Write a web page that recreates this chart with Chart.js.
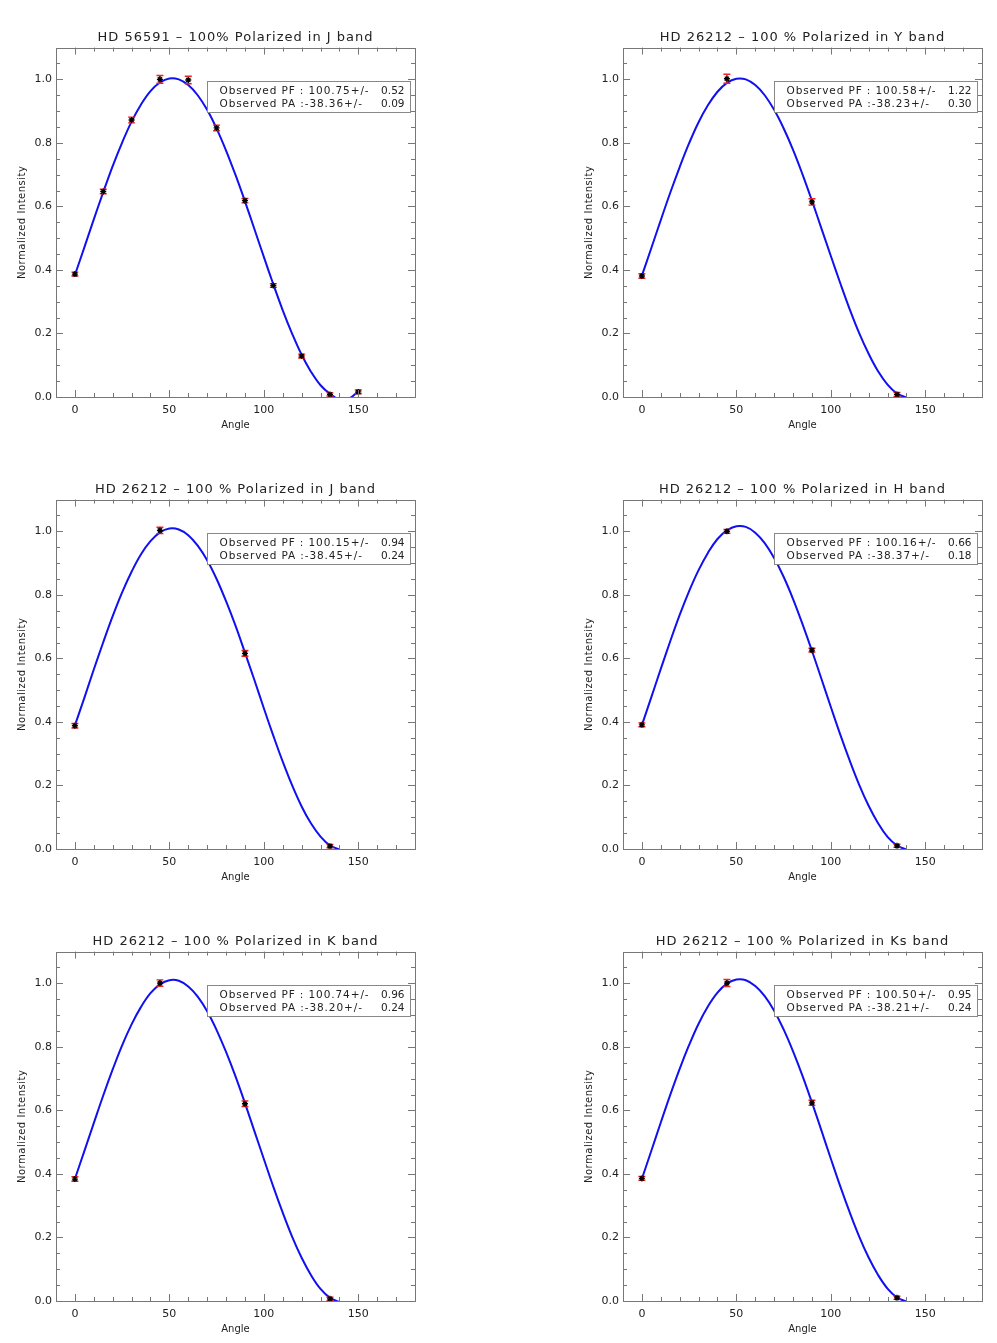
<!DOCTYPE html>
<html>
<head>
<meta charset="utf-8">
<title>Polarization fits</title>
<script src="https://cdn.jsdelivr.net/npm/chart.js@4/dist/chart.umd.min.js"></script>
<style>
  html, body { margin: 0; padding: 0; background: #fff; overflow: hidden; }
  #page { position: relative; width: 997px; height: 1343px; }
  .panel { position: absolute; width: 430px; height: 452px; }
</style>
</head>
<body>
<div id="page">
  <div class="panel" style="left:0;top:0"><canvas id="c0" width="430" height="452"></canvas></div>
  <div class="panel" style="left:567px;top:0"><canvas id="c1" width="430" height="452"></canvas></div>
  <div class="panel" style="left:0;top:452px"><canvas id="c2" width="430" height="452"></canvas></div>
  <div class="panel" style="left:567px;top:452px"><canvas id="c3" width="430" height="452"></canvas></div>
  <div class="panel" style="left:0;top:904px"><canvas id="c4" width="430" height="452"></canvas></div>
  <div class="panel" style="left:567px;top:904px"><canvas id="c5" width="430" height="452"></canvas></div>
</div>
<script>
// axis ticks
const xMajor = [0, 50, 100, 150];
const xMinor = [0, 10, 20, 30, 40, 50, 60, 70, 80, 90, 100, 110, 120, 130, 140, 150, 160, 170];
const yMajor = [0, 0.2, 0.4, 0.6, 0.8, 1.0];
const yMinor = [0, 0.05, 0.1, 0.15, 0.2, 0.25, 0.3, 0.35, 0.4, 0.45, 0.5, 0.55, 0.6, 0.65, 0.7, 0.75, 0.8, 0.85, 0.9, 0.95, 1.0, 1.05];

const titles = [
  "HD 56591 – 100% Polarized in J band",
  "HD 26212 – 100 % Polarized in Y band",
  "HD 26212 – 100 % Polarized in J band",
  "HD 26212 – 100 % Polarized in H band",
  "HD 26212 – 100 % Polarized in K band",
  "HD 26212 – 100 % Polarized in Ks band"
];

// legend numbers
const pfValues = ["100.75", "100.58", "100.15", "100.16", "100.74", "100.50"];
const pfErrors = ["0.52", "1.22", "0.94", "0.66", "0.96", "0.95"];
const paValues = ["-38.36", "-38.23", "-38.45", "-38.37", "-38.20", "-38.21"];
const paErrors = ["0.09", "0.30", "0.24", "0.18", "0.24", "0.24"];

// observed points
const anglesHD56591 = [0, 15, 30, 45, 60, 75, 90, 105, 120, 135, 150];
const anglesHD26212 = [0, 45, 90, 135];

const obsJ56591 = [0.387, 0.647, 0.872, 1.0, 0.998, 0.847, 0.618, 0.351, 0.129, 0.008, 0.016];
const errJ56591 = [0.006, 0.007, 0.009, 0.012, 0.012, 0.009, 0.007, 0.006, 0.006, 0.005, 0.006];
const obsY = [0.381, 1.002, 0.614, 0.008];
const errY = [0.007, 0.014, 0.010, 0.006];
const obsJ = [0.388, 1.003, 0.616, 0.009];
const errJ = [0.007, 0.010, 0.009, 0.005];
const obsH = [0.391, 1.000, 0.626, 0.010];
const errH = [0.006, 0.006, 0.006, 0.005];
const obsK = [0.384, 1.001, 0.621, 0.007];
const errK = [0.007, 0.010, 0.009, 0.005];
const obsKs = [0.386, 1.001, 0.624, 0.010];
const errKs = [0.006, 0.011, 0.008, 0.005];

// fitted curves, read every 5 degrees
const fitAngles = [0, 5, 10, 15, 20, 25, 30, 35, 40, 45, 50, 55, 60, 65, 70, 75, 80, 85, 90, 95, 100, 105, 110, 115, 120, 125, 130, 135, 140, 145, 150];
const fitJ56591 = [0.384, 0.471, 0.559, 0.645, 0.727, 0.801, 0.867, 0.921, 0.963, 0.990, 1.003, 1.000, 0.982, 0.950, 0.904, 0.845, 0.776, 0.699, 0.616, 0.529, 0.441, 0.355, 0.273, 0.199, 0.133, 0.079, 0.037, 0.010, -0.008, -0.005, 0.018];
const fitY = [0.382, 0.469, 0.557, 0.643, 0.724, 0.799, 0.865, 0.919, 0.961, 0.989, 1.002, 1.000, 0.982, 0.950, 0.904, 0.846, 0.778, 0.701, 0.618, 0.531, 0.444, 0.358, 0.276, 0.201, 0.136, 0.081, 0.039, 0.011, -0.002];
const fitJ = [0.389, 0.476, 0.565, 0.651, 0.733, 0.808, 0.873, 0.928, 0.969, 0.997, 1.009, 1.006, 0.988, 0.955, 0.909, 0.850, 0.780, 0.703, 0.618, 0.532, 0.443, 0.357, 0.275, 0.200, 0.134, 0.080, 0.039, 0.011, -0.001];
const fitH = [0.390, 0.478, 0.567, 0.654, 0.737, 0.812, 0.878, 0.933, 0.976, 1.003, 1.016, 1.014, 0.996, 0.963, 0.916, 0.857, 0.787, 0.708, 0.624, 0.536, 0.447, 0.360, 0.278, 0.202, 0.136, 0.081, 0.038, 0.011, -0.002];
const fitK = [0.384, 0.472, 0.560, 0.647, 0.729, 0.805, 0.871, 0.926, 0.969, 0.997, 1.010, 1.008, 0.990, 0.958, 0.912, 0.853, 0.784, 0.707, 0.623, 0.535, 0.447, 0.360, 0.278, 0.202, 0.136, 0.081, 0.038, 0.010, -0.003];
const fitKs = [0.385, 0.473, 0.562, 0.649, 0.731, 0.806, 0.873, 0.928, 0.971, 0.999, 1.012, 1.010, 0.992, 0.960, 0.914, 0.855, 0.786, 0.709, 0.625, 0.537, 0.448, 0.361, 0.279, 0.203, 0.137, 0.082, 0.039, 0.011, -0.002];

const panels = [
  { angles: anglesHD56591, obs: obsJ56591, err: errJ56591, fit: fitJ56591 },
  { angles: anglesHD26212, obs: obsY, err: errY, fit: fitY },
  { angles: anglesHD26212, obs: obsJ, err: errJ, fit: fitJ },
  { angles: anglesHD26212, obs: obsH, err: errH, fit: fitH },
  { angles: anglesHD26212, obs: obsK, err: errK, fit: fitK },
  { angles: anglesHD26212, obs: obsKs, err: errKs, fit: fitKs }
];

const FONT = "'DejaVu Sans', sans-serif";
const AXIS_COLOR = "#777";
const TEXT_COLOR = "#222";

// the IDL lettering is looser than DejaVu, so widen the title and y title a bit
const spacing = {
  id: "spacing",
  beforeDraw(chart) {
    if (chart._spaced) return;
    chart._spaced = true;
    const wrap = (obj, name, px) => {
      const orig = obj[name].bind(obj);
      obj[name] = (...args) => {
        const c = chart.ctx;
        c.save();
        c.letterSpacing = px;
        orig(...args);
        c.restore();
      };
    };
    wrap(chart.titleBlock, "draw", "1px");
    wrap(chart.scales.y, "drawTitle", "0.5px");
  }
};

// red error bars, drawn just before the star markers
const errorBars = {
  id: "errorBars",
  beforeDatasetDraw(chart, args) {
    if (args.index !== 0) return;
    const { ctx, scales: { x, y } } = chart;
    ctx.save();
    ctx.strokeStyle = "#ee2222";
    ctx.lineWidth = 1.4;
    chart.data.datasets[0].data.forEach(p => {
      const px = x.getPixelForValue(p.x);
      const lo = y.getPixelForValue(p.y - p.err);
      const hi = y.getPixelForValue(p.y + p.err);
      ctx.beginPath();
      ctx.moveTo(px, lo); ctx.lineTo(px, hi);
      ctx.moveTo(px - 3.5, lo); ctx.lineTo(px + 3.5, lo);
      ctx.moveTo(px - 3.5, hi); ctx.lineTo(px + 3.5, hi);
      ctx.stroke();
    });
    ctx.restore();
  }
};

// box axes with inward ticks on all four sides + the PF/PA box
const frame = {
  id: "frame",
  afterDraw(chart) {
    const { ctx, chartArea: a, scales: { x, y } } = chart;
    const i = chart.options.plugins.frame.panel;
    ctx.save();
    ctx.strokeStyle = AXIS_COLOR;
    ctx.lineWidth = 1;
    ctx.strokeRect(Math.round(a.left) + 0.5, Math.round(a.top) + 0.5,
      Math.round(a.right - a.left), Math.round(a.bottom - a.top));
    ctx.beginPath();
    xMinor.forEach(v => {
      const px = Math.round(x.getPixelForValue(v)) + 0.5;
      const len = xMajor.includes(v) ? 7 : 4;
      ctx.moveTo(px, a.bottom); ctx.lineTo(px, a.bottom - len);
      ctx.moveTo(px, a.top); ctx.lineTo(px, a.top + len);
    });
    yMinor.forEach(v => {
      const py = Math.round(y.getPixelForValue(v)) + 0.5;
      const len = yMajor.some(m => Math.abs(m - v) < 1e-9) ? 7 : 4;
      ctx.moveTo(a.left, py); ctx.lineTo(a.left + len, py);
      ctx.moveTo(a.right, py); ctx.lineTo(a.right - len, py);
    });
    ctx.stroke();

    const bl = Math.round(a.right - 208) + 0.5, br = Math.round(a.right - 5) + 0.5;
    const bt = Math.round(a.top + 33) + 0.5, bb = Math.round(a.top + 64) + 0.5;
    ctx.fillStyle = "#fff";
    ctx.fillRect(bl, bt, br - bl, bb - bt);
    ctx.strokeStyle = "#888";
    ctx.strokeRect(bl, bt, br - bl, bb - bt);
    ctx.fillStyle = TEXT_COLOR;
    ctx.font = "10.5px " + FONT;
    ctx.textBaseline = "middle";
    ctx.textAlign = "right";
    ctx.fillText(pfErrors[i], br - 6, bt + 9.5);
    ctx.fillText(paErrors[i], br - 6, bt + 22.5);
    ctx.textAlign = "left";
    ctx.letterSpacing = "0.9px";
    ctx.fillText("Observed PF : " + pfValues[i] + "+/-", bl + 12, bt + 9.5);
    ctx.fillText("Observed PA :" + paValues[i] + "+/-", bl + 12, bt + 22.5);
    ctx.restore();
  }
};

panels.forEach((p, i) => {
  const points = p.angles.map((a, k) => ({ x: a, y: p.obs[k], err: p.err[k] }));
  const curve = p.fit.map((v, k) => ({ x: fitAngles[k], y: v }));

  new Chart(document.getElementById("c" + i), {
    type: "line",
    data: {
      datasets: [
        {
          data: points,
          showLine: false,
          pointStyle: "star",
          pointRadius: 3,
          pointBorderColor: "#000",
          pointBackgroundColor: "#000",
          pointBorderWidth: 1.3,
          clip: false
        },
        {
          data: curve,
          borderColor: "#1010f0",
          borderWidth: 2,
          pointRadius: 0,
          tension: 0.4,
          clip: 0
        }
      ]
    },
    options: {
      responsive: false,
      animation: false,
      events: [],
      layout: { padding: { left: 0, right: 15, top: 0, bottom: 15 } },
      plugins: {
        legend: { display: false },
        tooltip: { enabled: false },
        title: {
          display: true,
          text: titles[i],
          fullSize: false,
          color: TEXT_COLOR,
          font: { family: FONT, size: 13, weight: "normal", lineHeight: 1.2 },
          padding: { top: 30, bottom: 2 }
        },
        frame: { panel: i }
      },
      scales: {
        x: {
          type: "linear",
          min: -10,
          max: 180,
          afterBuildTicks: s => { s.ticks = xMajor.map(v => ({ value: v })); },
          afterFit: s => { s.height = 40; },
          grid: { display: false, drawTicks: false },
          border: { display: false },
          ticks: { color: TEXT_COLOR, font: { family: FONT, size: 11 }, padding: 7, maxRotation: 0 },
          title: { display: true, text: "Angle", color: TEXT_COLOR, font: { family: FONT, size: 10, lineHeight: 1.2 }, padding: { top: 0, bottom: 6 } }
        },
        y: {
          type: "linear",
          min: 0,
          max: 1.1,
          afterBuildTicks: s => { s.ticks = yMajor.map(v => ({ value: v })); },
          afterFit: s => { s.width = 56; },
          grid: { display: false, drawTicks: false },
          border: { display: false },
          ticks: { color: TEXT_COLOR, font: { family: FONT, size: 11 }, padding: 4, callback: v => v.toFixed(1) },
          title: { display: true, text: "Normalized Intensity", color: TEXT_COLOR, font: { family: FONT, size: 10, lineHeight: 1.2 }, padding: { top: 16, bottom: 0 } }
        }
      }
    },
    plugins: [spacing, errorBars, frame]
  });
});
</script>
</body>
</html>
